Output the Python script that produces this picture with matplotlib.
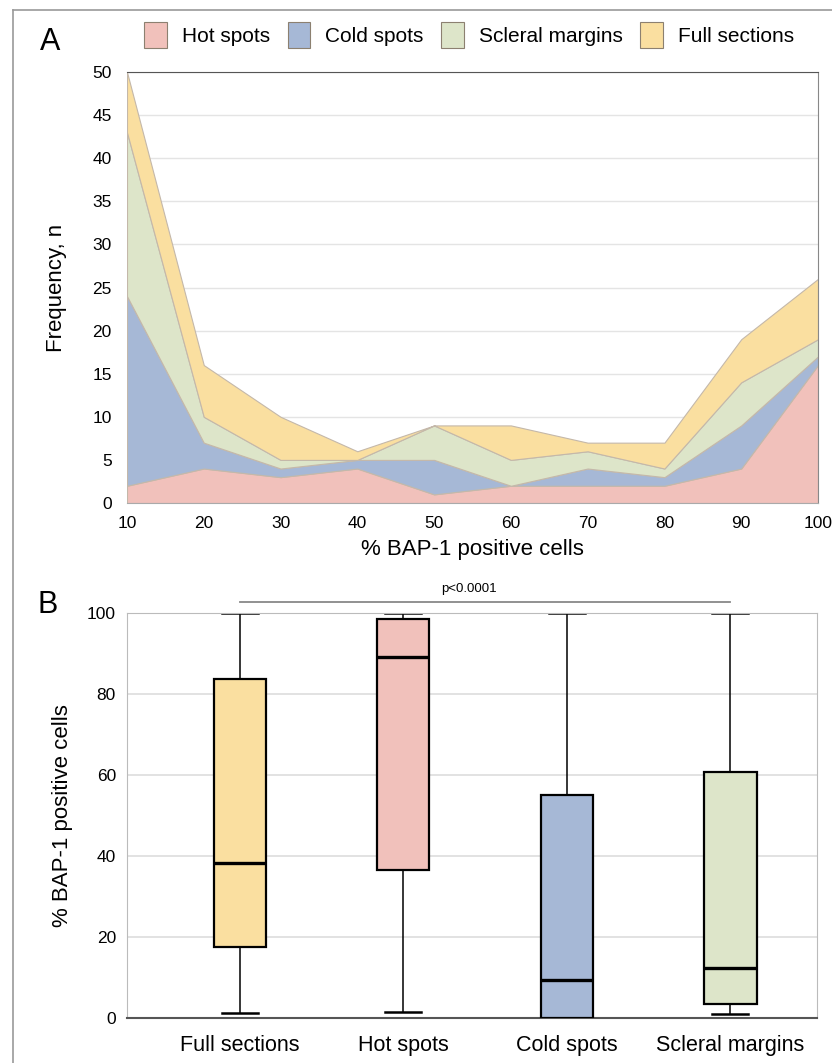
import matplotlib
matplotlib.use("Agg")
import matplotlib.pyplot as plt
from matplotlib.patches import Patch
from matplotlib.lines import Line2D
from matplotlib import font_manager

# panel A: frequency of % BAP-1 positive cells per category
bins = [10, 20, 30, 40, 50, 60, 70, 80, 90, 100]
hot_spots = [2, 4, 3, 4, 1, 2, 2, 2, 4, 16]
cold_spots = [22, 3, 1, 1, 4, 0, 2, 1, 5, 1]
scleral_margins = [19, 3, 1, 0, 4, 3, 2, 1, 5, 2]
full_sections = [7, 6, 5, 1, 0, 4, 1, 3, 5, 7]
series_names = ["Hot spots", "Cold spots", "Scleral margins", "Full sections"]

# panel B: box plot summaries (whislo, q1, med, q3, whishi)
box_labels = ["Full sections", "Hot spots", "Cold spots", "Scleral margins"]
box_whislo = [1.2, 1.6, 0.0, 0.9]
box_q1 = [17.6, 36.5, 0.0, 3.5]
box_med = [38.2, 89.1, 9.5, 12.4]
box_q3 = [83.8, 98.5, 55.1, 60.7]
box_whishi = [100, 100, 100, 100]
p_text = "p<0.0001"

pink = "#F1C1BB"
blue = "#A6B8D6"
green = "#DDE5C9"
yellow = "#FADFA0"

installed = {f.name for f in font_manager.fontManager.ttflist}
narrow = "Liberation Sans Narrow" if "Liberation Sans Narrow" in installed else "Liberation Sans"
plt.rcParams["font.family"] = ["Liberation Sans", "DejaVu Sans"]

W, H = 832, 1063
fig = plt.figure(figsize=(W / 100, H / 100), dpi=100)

# frame lines (top and left) around the figure
fig.add_artist(Line2D([13 / W, 1], [1 - 10 / H, 1 - 10 / H], transform=fig.transFigure,
                      color="#9a9a9a", linewidth=1.2))
fig.add_artist(Line2D([13 / W, 13 / W], [0, 1 - 10 / H], transform=fig.transFigure,
                      color="#9a9a9a", linewidth=1.2))


def px_axes(left, top, right, bottom):
    return fig.add_axes([left / W, 1 - bottom / H, (right - left) / W, (bottom - top) / H])


# ---------- panel A ----------
ax1 = px_axes(127, 72, 818, 503)
ax1.stackplot(bins, hot_spots, cold_spots, scleral_margins, full_sections,
              colors=[pink, blue, green, yellow],
              edgecolor="#c4b8aa", linewidth=0.8, zorder=2)
ax1.set_xlim(10, 100)
ax1.set_ylim(0, 50)
ax1.set_xticks(bins)
ax1.set_yticks(range(0, 51, 5))
ax1.grid(axis="y", color="#e4e4e4", linewidth=1, zorder=0)
ax1.set_axisbelow(True)
ax1.tick_params(length=0, labelsize=12.5)
ax1.tick_params(axis="y", pad=11)
ax1.tick_params(axis="x", pad=9)
ax1.spines["left"].set_visible(False)
ax1.spines["top"].set_color("#555555")
ax1.spines["right"].set_color("#888888")
ax1.spines["bottom"].set_color("#aaaaaa")
ax1.set_xlabel("% BAP-1 positive cells", fontsize=16, labelpad=6)
ax1.set_ylabel("Frequency, n", fontsize=16, labelpad=18)
fig.text(40 / W, 1 - 42 / H, "A", fontsize=22, va="center", ha="left")

handles = [Patch(facecolor=c, edgecolor="#8c8070", linewidth=0.8)
           for c in [pink, blue, green, yellow]]
fig.legend(handles, series_names, loc="center", ncol=4,
           bbox_to_anchor=(469 / W, 1 - 35 / H), frameon=False,
           prop={"family": [narrow, "DejaVu Sans"], "size": 15},
           handlelength=1.1, handleheight=1.6, handletextpad=0.7, columnspacing=0.85)

# ---------- panel B ----------
ax2 = px_axes(127, 613, 817, 1018)
stats = []
for i in range(len(box_labels)):
    stats.append({"label": box_labels[i], "whislo": box_whislo[i], "q1": box_q1[i],
                  "med": box_med[i], "q3": box_q3[i], "whishi": box_whishi[i]})
positions = [1, 2, 3, 4]
bp = ax2.bxp(stats, positions=positions, widths=0.32, capwidths=0.22,
             showfliers=False, patch_artist=True,
             boxprops={"linewidth": 1.6, "edgecolor": "black"},
             medianprops={"linewidth": 2.4, "color": "black"},
             whiskerprops={"linewidth": 1.1, "color": "black"},
             capprops={"linewidth": 1.8, "color": "black"})
for patch, c in zip(bp["boxes"], [yellow, pink, blue, green]):
    patch.set_facecolor(c)
    patch.set_zorder(3)
for med in bp["medians"]:
    med.set_zorder(4)
ax2.set_xlim(0.31, 4.53)
ax2.set_ylim(0, 100)
ax2.set_yticks([0, 20, 40, 60, 80, 100])
ax2.grid(axis="y", color="#dddddd", linewidth=1.2)
ax2.set_axisbelow(True)
ax2.tick_params(length=0)
ax2.tick_params(axis="y", pad=8)
ax2.tick_params(axis="x", pad=12)
for lab in ax2.get_yticklabels():
    lab.set_fontfamily([narrow, "DejaVu Sans"])
    lab.set_fontsize(12.5)
for lab in ax2.get_xticklabels():
    lab.set_fontfamily([narrow, "DejaVu Sans"])
    lab.set_fontsize(15.5)
for side in ["left", "top", "right"]:
    ax2.spines[side].set_color("#bbbbbb")
ax2.spines["bottom"].set_color("#555555")
ax2.spines["bottom"].set_linewidth(1.5)
ax2.set_ylabel("% BAP-1 positive cells", fontsize=16, labelpad=10)

ax2.plot([positions[0], positions[-1]], [102.8, 102.8], color="#888888",
         linewidth=1.3, clip_on=False)
ax2.text(2.4, 104.5, p_text, ha="center", va="bottom", fontsize=9.5,
         family=[narrow, "DejaVu Sans"])
fig.text(38 / W, 1 - 605 / H, "B", fontsize=22, va="center", ha="left")

fig.savefig("out.png", dpi=100)
